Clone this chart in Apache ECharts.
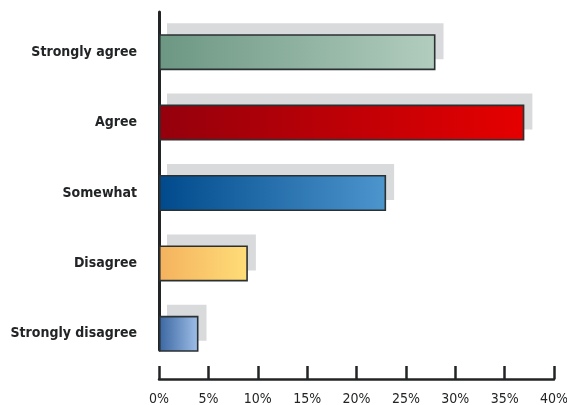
<!DOCTYPE html>
<html>
<head>
<meta charset="utf-8">
<style>
  html, body { margin: 0; padding: 0; background: #ffffff; }
  #chart { width: 567px; height: 405px; }
</style>
<script src="https://cdn.jsdelivr.net/npm/echarts@6/dist/echarts.min.js"></script>
</head>
<body>
<div id="chart"></div>
<script>
// Survey responses (% of respondents)
const categories = ['Strongly agree', 'Agree', 'Somewhat', 'Disagree', 'Strongly disagree'];
const values = [28, 37, 23, 9, 4];
const xTicks = [0, 5, 10, 15, 20, 25, 30, 35, 40];

// Left-to-right gradient stops for each bar
const gradients = [
  ['#6c9782', '#b2cdbe'],
  ['#94000c', '#e60000'],
  ['#004a8c', '#4c95cd'],
  ['#f4b25e', '#ffdd78'],
  ['#3a66a1', '#9fbfe8']
];

const FONT = '"DejaVu Sans Condensed", "Liberation Sans Narrow", sans-serif';
const INK = '#222426';
const BAR_H = 36;
const DROP_X = 8;
const DROP_Y = -11;

const chart = echarts.init(document.getElementById('chart'), null, { renderer: 'canvas' });

const barData = values.map((v, i) => ({
  value: v,
  itemStyle: {
    color: new echarts.graphic.LinearGradient(0, 0, 1, 0, [
      { offset: 0, color: gradients[i][0] },
      { offset: 1, color: gradients[i][1] }
    ])
  }
}));

// Grey drop block behind each bar, offset up and to the right
const dropData = values.map((v, i) => [v, i]);
function renderDrop(params, api) {
  const i = api.value(1);
  const p0 = api.coord([0, i]);
  const p1 = api.coord([api.value(0), i]);
  return {
    type: 'rect',
    shape: {
      x: p0[0] + DROP_X,
      y: p0[1] - BAR_H / 2 + DROP_Y,
      width: p1[0] - p0[0],
      height: BAR_H
    },
    style: { fill: '#d9dadc' }
  };
}

chart.setOption({
  animation: false,
  backgroundColor: '#ffffff',
  grid: [
    { left: 159, right: 13, top: 17, bottom: 36, outerBoundsMode: 'none', containLabel: false },
    { left: 159, right: 13, top: 12, bottom: 55, outerBoundsMode: 'none', containLabel: false }
  ],
  xAxis: [
    {
      gridIndex: 0,
      type: 'value',
      min: xTicks[0],
      max: xTicks[xTicks.length - 1],
      interval: 5,
      offset: 10,
      axisLine: { show: true, lineStyle: { color: INK, width: 2.5 } },
      axisTick: { show: true, inside: true, length: 13, lineStyle: { color: INK, width: 2.5 } },
      splitLine: { show: false },
      axisLabel: {
        formatter: '{value}%',
        margin: 13,
        color: INK,
        fontFamily: FONT,
        fontSize: 14,
        fontWeight: 'normal'
      }
    },
    {
      gridIndex: 1,
      type: 'value',
      min: 0,
      max: 40,
      show: false
    }
  ],
  yAxis: [
    {
      gridIndex: 0,
      type: 'category',
      data: categories,
      inverse: true,
      axisLine: { show: false },
      axisTick: { show: false },
      axisLabel: {
        margin: 22,
        color: INK,
        fontFamily: FONT,
        fontSize: 14,
        fontWeight: 'bold'
      }
    },
    {
      gridIndex: 1,
      type: 'value',
      min: 0,
      max: 1,
      axisLine: { show: true, lineStyle: { color: INK, width: 3 } },
      axisTick: { show: false },
      axisLabel: { show: false },
      splitLine: { show: false }
    }
  ],
  series: [
    {
      type: 'custom',
      xAxisIndex: 0,
      yAxisIndex: 0,
      data: dropData,
      encode: { x: 0, y: 1 },
      renderItem: renderDrop,
      clip: false,
      silent: true,
      z: 1
    },
    {
      type: 'bar',
      xAxisIndex: 0,
      yAxisIndex: 0,
      data: barData,
      barWidth: BAR_H,
      itemStyle: {
        borderColor: '#2b3033',
        borderWidth: 1.6
      },
      z: 3
    }
  ]
});
</script>
</body>
</html>
